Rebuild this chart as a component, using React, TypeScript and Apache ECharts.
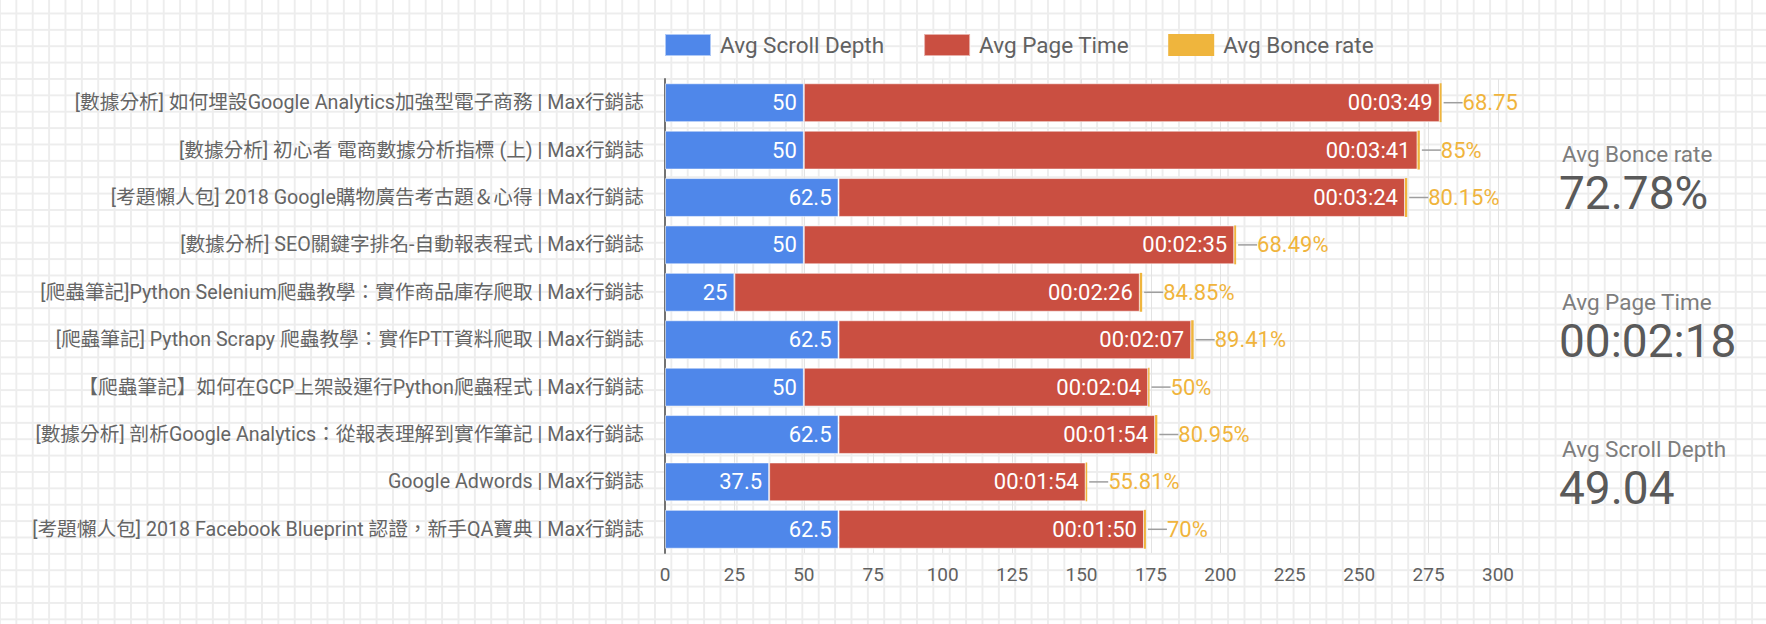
import React, { useEffect, useRef } from "react";
import * as echarts from "echarts";

const categories = [
  "[數據分析] 如何埋設Google Analytics加強型電子商務 | Max行銷誌",
  "[數據分析] 初心者 電商數據分析指標 (上) | Max行銷誌",
  "[考題懶人包] 2018 Google購物廣告考古題＆心得 | Max行銷誌",
  "[數據分析] SEO關鍵字排名-自動報表程式 | Max行銷誌",
  "[爬蟲筆記]Python Selenium爬蟲教學：實作商品庫存爬取 | Max行銷誌",
  "[爬蟲筆記] Python Scrapy 爬蟲教學：實作PTT資料爬取 | Max行銷誌",
  "【爬蟲筆記】如何在GCP上架設運行Python爬蟲程式 | Max行銷誌",
  "[數據分析] 剖析Google Analytics：從報表理解到實作筆記 | Max行銷誌",
  "Google Adwords | Max行銷誌",
  "[考題懶人包] 2018 Facebook Blueprint 認證，新手QA寶典 | Max行銷誌",
];
const scrollDepth = [50, 50, 62.5, 50, 25, 62.5, 50, 62.5, 37.5, 62.5];
const pageTimeSec = [229, 221, 204, 155, 146, 127, 124, 114, 114, 110];
const bounceRate = [0.6875, 0.85, 0.8015, 0.6849, 0.8485, 0.8941, 0.5, 0.8095, 0.5581, 0.7];
const bounceText = ["68.75", "85%", "80.15%", "68.49%", "84.85%", "89.41%", "50%", "80.95%", "55.81%", "70%"];
const seriesNames = ["Avg Scroll Depth", "Avg Page Time", "Avg Bonce rate"];
const xMin = 0;
const xMax = 300;
const xInterval = 25;
const kpiLabels = ["Avg Bonce rate", "Avg Page Time", "Avg Scroll Depth"];
const kpiValues = ["72.78%", "00:02:18", "49.04"];

const FONT = 'Roboto, "Noto Sans CJK TC", "Noto Sans", sans-serif';

function fmtTime(s: number): string {
  const h = Math.floor(s / 3600);
  const m = Math.floor((s % 3600) / 60);
  const sec = s % 60;
  const p = (n: number) => String(n).padStart(2, "0");
  return `${p(h)}:${p(m)}:${p(sec)}`;
}

export default function App() {
  const ref = useRef<HTMLDivElement>(null);
  useEffect(() => {
    if (!ref.current) return;
    const chart = echarts.init(ref.current, undefined, { renderer: "svg" });
    const kpiY = [
      [155.5, 196],
      [303, 343.5],
      [450.5, 491],
    ];
    const graphics: any[] = [];
    kpiLabels.forEach((l, i) => {
      graphics.push({
        type: "text",
        left: 1562,
        top: kpiY[i][0] - 12.5,
        style: { text: l, font: `22.5px ${FONT}`, fill: "#7d7d7d" },
        silent: true,
      });
      graphics.push({
        type: "text",
        left: 1559,
        top: kpiY[i][1] - 26,
        style: { text: kpiValues[i], font: `46px ${FONT}`, fill: "#5a5a5a" },
        silent: true,
      });
    });
    const border = { borderColor: "rgba(255,255,255,0.55)", borderWidth: 1 };
    chart.setOption({
      animation: false,
      textStyle: { fontFamily: FONT },
      grid: { left: 665, right: 268, top: 79, bottom: 71, containLabel: false },
      legend: {
        left: 664,
        top: 33,
        padding: 0,
        itemWidth: 46,
        itemHeight: 22,
        itemGap: 39,
        icon: "rect",
        data: seriesNames,
        textStyle: { fontSize: 22.5, color: "#616161", fontFamily: FONT, padding: [0, 0, 0, 4] },
      },
      xAxis: {
        type: "value",
        min: xMin,
        max: xMax,
        interval: xInterval,
        axisLine: { show: false },
        axisTick: { show: false },
        axisLabel: { fontSize: 19, color: "#616161", margin: 12, fontFamily: FONT },
        splitLine: { show: true, lineStyle: { color: "#e3e3e3", width: 1 } },
      },
      yAxis: {
        type: "category",
        inverse: true,
        data: categories,
        axisLine: { show: true, lineStyle: { color: "#737373", width: 2 } },
        axisTick: { show: false },
        axisLabel: { fontSize: 19.7, color: "#656565", margin: 21, fontFamily: FONT },
      },
      series: [
        {
          name: seriesNames[0],
          type: "bar",
          stack: "a",
          barCategoryGap: "18%",
          data: scrollDepth,
          itemStyle: { color: "#4f87ea", ...border },
          label: {
            show: true,
            position: "insideRight",
            distance: 7,
            color: "#ffffff",
            fontSize: 22,
            fontFamily: FONT,
          },
        },
        {
          name: seriesNames[1],
          type: "bar",
          stack: "a",
          data: pageTimeSec,
          itemStyle: { color: "#ca4f41", ...border },
          label: {
            show: true,
            position: "insideRight",
            distance: 7,
            color: "#ffffff",
            fontSize: 22,
            fontFamily: FONT,
            formatter: (p: any) => fmtTime(p.value),
          },
        },
        {
          name: seriesNames[2],
          type: "bar",
          stack: "a",
          data: bounceRate,
          itemStyle: { color: "#efb53d" },
          label: {
            show: true,
            position: "right",
            distance: 2,
            formatter: (p: any) => `{ln| }{v|${bounceText[p.dataIndex]}}`,
            rich: {
              ln: { width: 19, height: 1.5, backgroundColor: "#9e9e9e" },
              v: { color: "#f0b43c", fontSize: 22, fontFamily: FONT },
            },
          },
        },
      ],
      graphic: graphics,
    });
    return () => chart.dispose();
  }, []);
  const grid = "#ededed";
  return (
    <div
      style={{
        position: "fixed",
        left: 0,
        top: 0,
        width: 1766,
        height: 624,
        background: "#ffffff",
        backgroundImage: `linear-gradient(to right, ${grid} 2px, transparent 2px), linear-gradient(to bottom, ${grid} 2px, transparent 2px)`,
        backgroundSize: "16.38px 16.38px",
        backgroundPosition: "-1px 12.5px",
      }}
    >
      <div ref={ref} style={{ width: 1766, height: 624 }} />
    </div>
  );
}
